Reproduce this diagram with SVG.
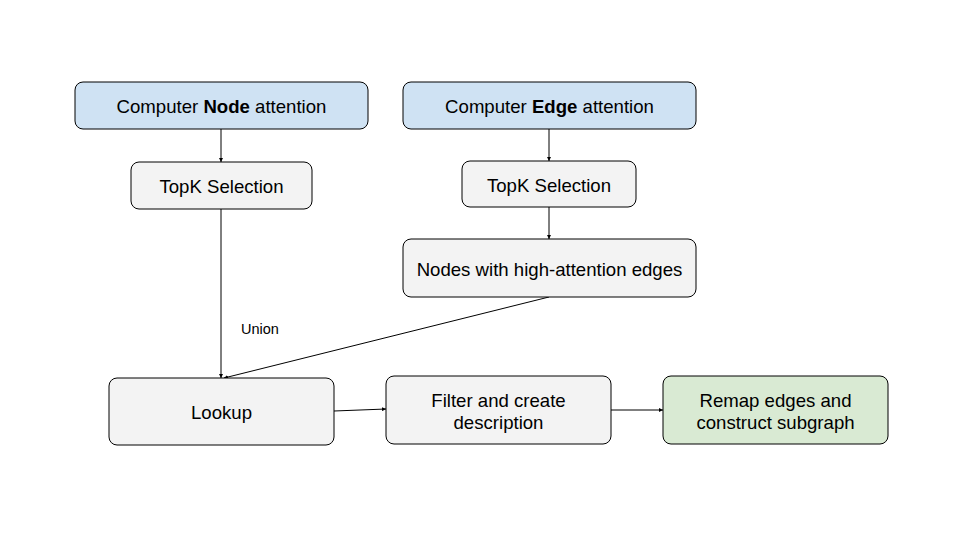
<svg xmlns="http://www.w3.org/2000/svg" width="960" height="540" viewBox="0 0 960 540">
<defs>
<style>
.box{stroke:#000;stroke-width:1;}
.blue{fill:#cfe2f3;}
.grey{fill:#f3f3f3;}
.green{fill:#d9ead3;}
text{font-family:"Liberation Sans",Arial,sans-serif;font-size:18.6px;fill:#000;text-anchor:middle;}
.small{font-size:14.5px;text-anchor:start;}
.conn{stroke:#000;stroke-width:1;fill:none;marker-end:url(#arr);}
</style>
<marker id="arr" viewBox="0 0 10 10" refX="10" refY="5" markerWidth="4" markerHeight="4" orient="auto" markerUnits="strokeWidth">
<path d="M0,0 L10,5 L0,10 z" fill="#000"/>
</marker>
</defs>
<rect width="960" height="540" fill="#fff"/>
<g id="connectors">
<line class="conn" x1="221" y1="129" x2="221" y2="162"/>
<line class="conn" x1="549" y1="129" x2="549" y2="161"/>
<line class="conn" x1="549" y1="207" x2="549" y2="239"/>
<line class="conn" x1="221" y1="209" x2="221" y2="378"/>
<line class="conn" x1="549" y1="297" x2="224" y2="378"/>
<line class="conn" x1="334" y1="411" x2="386" y2="409"/>
<line class="conn" x1="611" y1="410" x2="663" y2="410"/>
<text class="small" x="241" y="334">Union</text>
</g>
<g id="node-attn">
<rect class="box blue" x="75" y="82" width="293" height="47" rx="8"/>
<text x="221.5" y="113">Computer <tspan font-weight="bold">Node</tspan> attention</text>
</g>
<g id="edge-attn">
<rect class="box blue" x="403" y="82" width="293" height="47" rx="8"/>
<text x="549.5" y="113">Computer <tspan font-weight="bold">Edge</tspan> attention</text>
</g>
<g id="topk-left">
<rect class="box grey" x="131" y="162" width="181" height="47" rx="8"/>
<text x="221.5" y="193">TopK Selection</text>
</g>
<g id="topk-right">
<rect class="box grey" x="462" y="161" width="174" height="46" rx="8"/>
<text x="549" y="191.5">TopK Selection</text>
</g>
<g id="high-attn-nodes">
<rect class="box grey" x="403" y="239" width="293" height="58" rx="8"/>
<text x="549.5" y="276">Nodes with high-attention edges</text>
</g>
<g id="lookup">
<rect class="box grey" x="109" y="378" width="225" height="67" rx="8"/>
<text x="221.5" y="419">Lookup</text>
</g>
<g id="filter">
<rect class="box grey" x="386" y="376" width="225" height="68" rx="8"/>
<text x="498.5" y="407">Filter and create</text>
<text x="498.5" y="429">description</text>
</g>
<g id="remap">
<rect class="box green" x="663" y="376" width="225" height="68" rx="8"/>
<text x="775.5" y="407">Remap edges and</text>
<text x="775.5" y="429">construct subgraph</text>
</g>
</svg>
